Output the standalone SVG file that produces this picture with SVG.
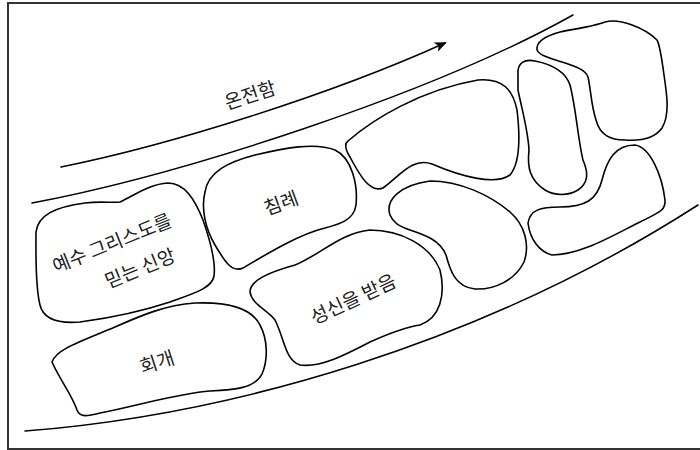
<svg xmlns="http://www.w3.org/2000/svg" width="700" height="450" viewBox="0 0 700 450">
<style>
.frame{fill:#fff;stroke:#333;stroke-width:2}
.ln{fill:none;stroke:#000;stroke-width:1.5;stroke-linecap:round}
.sh{fill:none;stroke:#000;stroke-width:1.6;stroke-linejoin:round}
.lb{font-family:"Noto Sans CJK KR","Noto Sans",sans-serif;font-size:19px;fill:#222;text-anchor:middle}
</style>
<defs>
<marker id="ah" viewBox="0 0 12 10" refX="10" refY="5" markerWidth="12" markerHeight="10" markerUnits="userSpaceOnUse" orient="auto">
<path d="M0,0 L12,5 L0,10 L3,5 Z" fill="#000"/>
</marker>
</defs>
<rect class="frame" x="8" y="3" width="700" height="446"/>
<g id="connectors">
<path class="ln" d="M61,167 C170,145 330,95 445,43" marker-end="url(#ah)"/>
<path class="ln" d="M32,203 C180,175 430,95 573,15"/>
<path class="ln" d="M25,431 C230,415 480,345 698,205"/>
</g>
<g id="label-onjeonham">
<text class="lb" transform="translate(250,95) rotate(-18)" y="7">온전함</text>
</g>
<g id="node-faith">
<path class="sh" d="M36,232 C38,215 55,207 85,203 C100,201 112,203 120,202 C135,195 150,184 168,183 C185,183 195,200 203,220 C210,240 216,262 214,276 C212,288 195,293 170,302 C140,312 110,318 80,322 C55,324 43,318 40,305 C35,285 36,255 36,232 Z"/>
<text class="lb" transform="translate(112,243) rotate(-22)" y="7">예수 그리스도를</text>
<text class="lb" transform="translate(140,268) rotate(-22)" y="7">믿는 신앙</text>
</g>
<g id="node-baptism">
<path class="sh" d="M205,192 C208,172 228,162 255,155 C285,148 315,142 335,150 C352,158 358,185 356,205 C354,220 340,224 325,228 C300,234 270,252 243,268 C232,273 225,262 215,245 C205,228 201,208 205,192 Z"/>
<text class="lb" transform="translate(281,203) rotate(-20)" y="7">침례</text>
</g>
<g id="node-c">
<path class="sh" d="M348,141 C372,120 420,90 478,80 C503,78 513,90 517,110 C520,135 521,162 510,175 C495,186 460,176 432,164 C412,157 400,176 383,188 C370,193 360,176 350,157 C345,149 344,144 348,141 Z"/>
</g>
<g id="node-holyspirit">
<path class="sh" d="M250,292 C250,280 270,272 295,265 C320,255 340,233 370,230 C400,230 430,245 440,270 C446,295 440,318 420,325 C405,327 390,333 370,342 C345,355 320,368 300,365 C285,360 285,340 275,320 C268,310 252,305 250,292 Z"/>
<text class="lb" transform="translate(353,299) rotate(-25)" y="7">성신을 받음</text>
</g>
<g id="node-repentance">
<path class="sh" d="M52,362 C56,349 82,341 115,327 C140,316 165,305 195,303 C220,302 250,305 260,325 C268,340 268,360 262,374 C255,388 235,390 210,391 C180,393 140,405 100,413 C88,416 80,418 77,410 C72,395 60,380 52,362 Z"/>
<text class="lb" transform="translate(157,362) rotate(-18)" y="7">회개</text>
</g>
<g id="node-f">
<path class="sh" d="M390,215 C385,200 400,185 430,181 C460,181 490,195 510,212 C525,225 530,245 524,262 C515,280 495,290 475,289 C455,287 450,270 446,255 C440,240 425,235 410,230 C398,226 393,222 390,215 Z"/>
</g>
<g id="node-g">
<path class="sh" d="M518,75 C517,62 525,59 535,61 C550,64 565,70 570,85 C576,108 578,140 583,160 C589,174 588,183 578,190 C568,196 555,196 545,190 C530,180 527,168 529,150 C528,130 522,110 518,90 Z"/>
</g>
<g id="node-h">
<path class="sh" d="M537,50 C536,42 545,36 560,32 C580,28 595,26 605,22 C620,18 645,28 657,40 C660,45 662,60 664,75 C667,95 670,115 662,128 C655,138 640,141 625,140 C610,140 600,135 596,120 C591,105 591,90 588,77 C586,70 575,66 562,62 C550,58 540,56 537,50 Z"/>
</g>
<g id="node-i">
<path class="sh" d="M528,223 C530,210 540,207 560,207 C585,207 597,200 602,180 C607,160 615,145 635,145 C650,147 662,175 665,200 C666,210 660,212 640,222 C610,237 580,255 552,255 C540,252 530,240 528,223 Z"/>
</g>
</svg>
